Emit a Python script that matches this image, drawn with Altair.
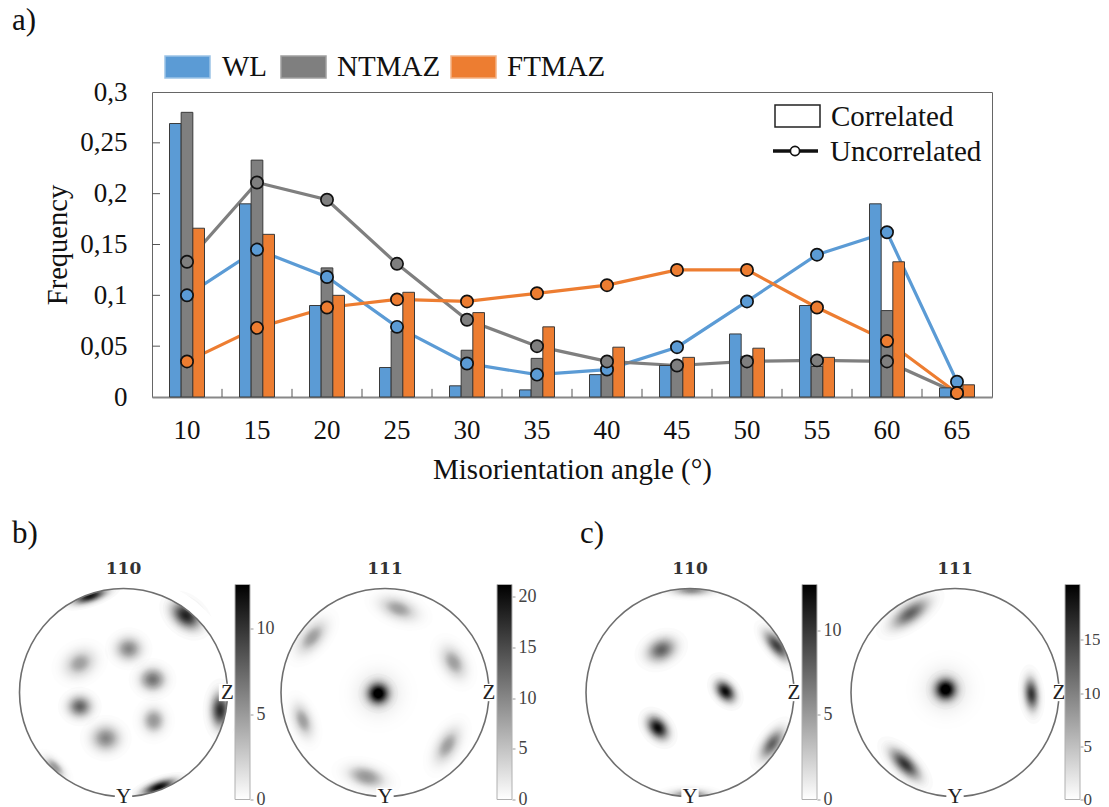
import math
import altair as alt
import pandas as pd

SERIF = "Liberation Serif"
angles = [10, 15, 20, 25, 30, 35, 40, 45, 50, 55, 60, 65]
series = ["WL", "NTMAZ", "FTMAZ"]
colors = ["#5B9BD5", "#7F7F7F", "#ED7D31"]
corr_wl = [.269, .19, .09, .029, .011, .007, .022, .031, .062, .09, .19, .009]
corr_nt = [.28, .233, .127, .065, .046, .038, .029, .03, .04, .03, .085, .005]
corr_ft = [.166, .16, .1, .103, .083, .069, .049, .039, .048, .039, .133, .012]
unc_wl = [.1, .145, .118, .069, .033, .022, .027, .049, .094, .14, .162, .015]
unc_nt = [.133, .211, .194, .131, .076, .05, .035, .031, .035, .036, .035, .004]
unc_ft = [.035, .068, .088, .096, .094, .102, .11, .125, .125, .088, .055, .004]
y_ticks = [0, .05, .1, .15, .2, .25, .3]
inner_ticks = [.05, .1, .15, .2, .25]

# pole figure blobs: x, y, sigma, axis ratio, angle, peak darkness
b110 = [(-.32, .926, .08, .35, 342, .9), (.60, .74, .075, .7, 40, .85), (.93, -.17, .08, .55, 90, .8),
        (.34, -.91, .08, .35, 340, .95), (-.66, -.72, .06, .5, 45, .35), (.05, .42, .06, .9, 0, .42),
        (-.42, .28, .075, .8, 330, .33), (.28, .125, .06, .9, 0, .5), (-.42, -.135, .055, .9, 0, .55),
        (.29, -.27, .06, .9, 90, .36), (-.17, -.44, .065, .9, 0, .42)]
b111 = [(-.065, -.01, .05, 1, 0, .98), (-.065, -.01, .1, 1, 0, .12), (.13, .805, .09, .55, 20, .33),
        (-.70, .53, .09, .55, 310, .33), (.66, .29, .08, .65, 60, .33), (-.79, -.27, .08, .55, 70, .33),
        (.60, -.51, .09, .55, 300, .33), (-.18, -.81, .09, .55, 15, .36)]
c110 = [(.34, .01, .055, .7, 50, .95), (-.31, -.34, .06, .7, 50, .95), (-.275, .41, .07, .75, 335, .55),
        (.835, .45, .08, .45, 50, .7), (.79, -.495, .08, .5, 305, .55), (.016, .985, .09, .3, 0, .4),
        (0, -.985, .09, .3, 0, .45)]
c111 = [(-.09, .03, .05, 1, 0, .98), (-.09, .03, .1, 1, 0, .12), (.735, -.016, .075, .45, 85, .75),
        (-.43, .76, .1, .45, 325, .55), (-.48, -.69, .09, .45, 45, .75)]

R = 104
corr = pd.DataFrame({"angle": angles * 3, "series": sum([[s] * 12 for s in series], []),
                     "v": corr_wl + corr_nt + corr_ft})
unc = pd.DataFrame({"angle": angles * 3, "series": sum([[s] * 12 for s in series], []),
                    "v": unc_wl + unc_nt + unc_ft})
x_enc = alt.X("angle:O", sort=angles,
              scale=alt.Scale(domain=angles, paddingInner=.5, paddingOuter=.25),
              axis=alt.Axis(title="Misorientation angle (°)", labelAngle=0, ticks=False,
                            labelFont=SERIF, labelFontSize=27, labelColor="#111", labelPadding=20,
                            titleFont=SERIF, titleFontSize=29, titleFontWeight="normal", titleColor="#111",
                            titlePadding=12, domainColor="#888", domainWidth=2))
y_enc = alt.Y("v:Q", scale=alt.Scale(domain=[0, .3], nice=False),
              axis=alt.Axis(title="Frequency", values=y_ticks, ticks=False, domain=False, grid=False,
                            labelExpr="replace(format(datum.value,'.2~f'),'.',',')",
                            labelFont=SERIF, labelFontSize=27, labelColor="#111", labelPadding=25,
                            titleFont=SERIF, titleFontSize=28.5, titleFontWeight="normal", titleColor="#111",
                            titlePadding=7))
col = alt.Color("series:N", scale=alt.Scale(domain=series, range=colors), legend=None)

lines = alt.Chart(unc).mark_line(strokeWidth=3.2).encode(x=x_enc, y=y_enc, color=col, detail="series:N")
bars = alt.Chart(corr).mark_bar(stroke="#3a3a3a", strokeWidth=1).encode(
    x=x_enc, y=y_enc, color=col,
    xOffset=alt.XOffset("series:N", sort=series, scale=alt.Scale(domain=series, paddingInner=0, paddingOuter=0)))
pts = [alt.Chart(unc[unc["series"] == s]).mark_point(filled=True, size=150, opacity=1, stroke="#111", strokeWidth=1.7, color=c, fill=c).encode(x=x_enc, y=y_enc)
       for s, c in zip(series, colors)]
xt = alt.Chart(pd.DataFrame({"angle": angles[:-1], "v": [0] * 11, "v2": [.008] * 11})).mark_rule(color="#555", strokeWidth=1, xOffset=35).encode(x=x_enc, y=y_enc, y2="v2:Q")
yt = alt.Chart(pd.DataFrame({"v": inner_ticks})).mark_rule(color="#555", strokeWidth=1).encode(x=alt.value(0), x2=alt.value(8), y=y_enc)

def txt(s, x, y, size=29, font=SERIF, color="#111", align="left", weight="normal"):
    return alt.Chart(pd.DataFrame({"t": [s]})).mark_text(font=font, fontSize=size, color=color, align=align, baseline="middle", fontWeight=weight).encode(x=alt.value(x), y=alt.value(y), text="t:N")

def swatch(x0, x1, y0, y1, fill, stroke):
    return alt.Chart(pd.DataFrame({"a": [0]})).mark_rect(color=fill, stroke=stroke, strokeWidth=1.5).encode(x=alt.value(x0), x2=alt.value(x1), y=alt.value(y0), y2=alt.value(y1))

legend = [swatch(13, 58, -36, -14, colors[0], "#9cc3e6"), txt("WL", 70, -25),
          swatch(129, 174, -36, -14, colors[1], "#a0a0a0"), txt("NTMAZ", 185, -25),
          swatch(299, 344, -36, -14, colors[2], "#f4b183"), txt("FTMAZ", 355, -25),
          swatch(623, 668, 13, 35, "white", "#222"), txt("Correlated", 679, 25),
          alt.Chart(pd.DataFrame({"a": [0]})).mark_rule(color="#111", strokeWidth=3.5).encode(x=alt.value(621), x2=alt.value(666), y=alt.value(59)),
          alt.Chart(pd.DataFrame({"a": [0]})).mark_point(filled=True, fill="white", opacity=1, stroke="#111", strokeWidth=1.7, size=85).encode(x=alt.value(643), y=alt.value(59)),
          txt("Uncorrelated", 678, 60)]

main = alt.layer(lines, bars, *pts, xt, yt, *legend).properties(width=840, height=305, view=alt.ViewConfig(stroke="#666"))
spacer = txt("a)", 4, -71, 31).properties(width=144, height=305, view=alt.ViewConfig(stroke="transparent"))
top = alt.hconcat(spacer, main, spacing=0, bounds="flush")

def rings(blobs):
    rows = []
    n = 40
    for x, y, s, ratio, ang, P in blobs:
        for k in range(n):
            rho = 1.3 * s * math.sqrt(2 * math.log(n / (k + .5)))
            rows.append({"x": x, "y": y, "size": (2 * rho * R) ** 2, "ang": ang,
                         "op": (P / n) / (1 - P * k / n),
                         "shape": f"M-1,0A1,{ratio},0,1,1,1,0A1,{ratio},0,1,1,-1,0Z"})
    return pd.DataFrame(rows)

H = 215
def pole(blobs, title, left, right, cx, panel=None, panel_x=0):
    xs = alt.Scale(domain=[(left - cx) / R, (right - cx) / R], nice=False, zero=False)
    ys = alt.Scale(domain=[-(799 - 692) / R, (692 - 584) / R], nice=False, zero=False)
    X = alt.X("x:Q", scale=xs, axis=None)
    Y = alt.Y("y:Q", scale=ys, axis=None)
    one = alt.Chart(pd.DataFrame({"x": [0], "y": [0]}))
    lab = pd.DataFrame({"x": [1, 0], "y": [0, -1], "t": ["Z", "Y"]})
    ly = [
        alt.Chart(rings(blobs)).mark_point(filled=True, strokeWidth=0, color="black").encode(
            x=X, y=Y, size=alt.Size("size:Q", scale=None), angle=alt.Angle("ang:Q", scale=None),
            opacity=alt.Opacity("op:Q", scale=None), shape=alt.Shape("shape:N", scale=None)),
        one.mark_point(shape="circle", filled=False, stroke="white", strokeWidth=12, opacity=1, size=(2 * (R + 6)) ** 2).encode(x=X, y=Y),
        one.mark_point(shape="circle", filled=False, stroke="#6e6e6e", strokeWidth=1.6, opacity=1, size=(2 * R) ** 2).encode(x=X, y=Y),
        alt.Chart(lab).mark_point(shape="square", filled=True, fill="white", opacity=1, strokeWidth=0, size=300).encode(x=X, y=Y),
        alt.Chart(lab).mark_text(font=SERIF, fontSize=21, color="#222").encode(x=X, y=Y, text="t:N"),
        one.mark_text(text=title, font="DejaVu Serif", fontSize=17, fontWeight="bold", color="#333", baseline="middle").encode(x=X, y=alt.value(-16)),
    ]
    if panel:
        ly.append(txt(panel, panel_x, -51, 31))
    return alt.layer(*ly).properties(width=right - left, height=H, view=alt.ViewConfig(stroke="transparent"))

def cbar(vmax, ticks, pad=3, fs=18):
    grad = alt.LinearGradient(gradient="linear", x1=0, y1=0, x2=0, y2=1,
                              stops=[alt.GradientStop(offset=0, color="#000000"),
                                     alt.GradientStop(offset=1, color="#ffffff")])
    d = pd.DataFrame({"a": [0], "b": [vmax]})
    return alt.Chart(d).mark_rect(color=grad, stroke="#b0b0b0", strokeWidth=1).encode(
        x=alt.value(0), x2=alt.value(15),
        y=alt.Y("a:Q", scale=alt.Scale(domain=[0, vmax], nice=False),
                axis=alt.Axis(orient="right", title=None, values=ticks, grid=False, domain=False,
                              tickSize=3, tickColor="#999", labelPadding=pad, labelFont=SERIF, labelFontSize=fs,
                              labelColor="#444", labelFlush=False, labelOverlap=False, format="d")),
        y2="b:Q").properties(width=15, height=H, view=alt.ViewConfig(stroke="transparent"))

bottom = alt.hconcat(
    pole(b110, "110", 8, 235, 123.5, "b)", 4), cbar(12.6, [0, 5, 10]),
    pole(b111, "111", 250, 497, 385), cbar(21.2, [0, 5, 10, 15, 20]),
    pole(c110, "110", 512, 802, 690, "c)", 68), cbar(12.7, [0, 5, 10]),
    pole(c111, "111", 817, 1065, 955), cbar(20.2, [0, 5, 10, 15], pad=0, fs=17),
    spacing=0, bounds="flush")

chart = alt.vconcat(top, bottom, spacing=492.5, bounds="flush").properties(
    padding=0, background="white",
    usermeta={"embedOptions": {"padding": {"left": -19, "top": -4, "right": -1, "bottom": 0}}})
chart.save("out.html", embed_options={"renderer": "svg", "actions": False})
